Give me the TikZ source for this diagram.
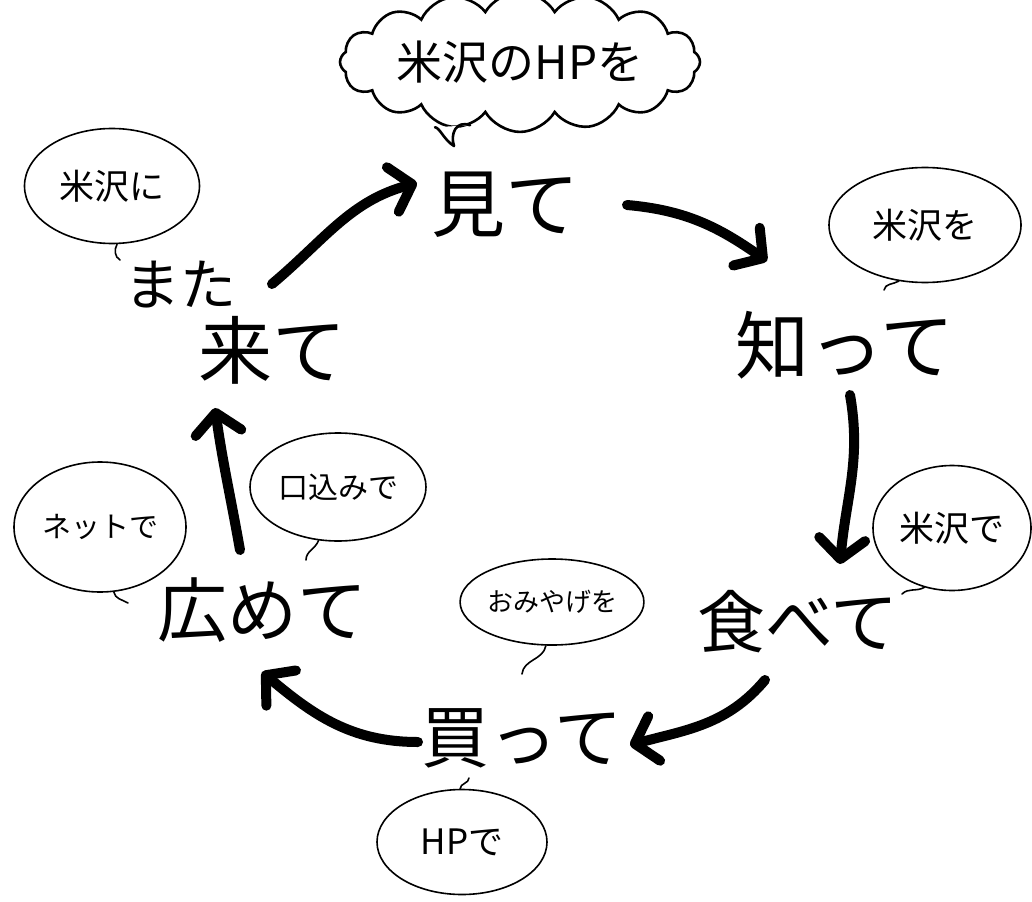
\documentclass[tikz,border=0pt]{standalone}
\usepackage{fontspec}
\newfontfamily\jp{Noto Sans CJK JP}
\usetikzlibrary{arrows.meta,shapes.geometric,shapes.symbols,calc}
\begin{document}
\begin{tikzpicture}[x=1pt,y=1pt,
  big/.style={font=\jp\fontsize{74}{74}\selectfont, inner sep=0pt},
  mid/.style={font=\jp\fontsize{56}{56}\selectfont, inner sep=0pt},
  bubble/.style={draw, ellipse, line width=1.6pt, font=\jp\fontsize{35}{35}\selectfont, inner sep=0pt},
  tail/.style={line width=1.6pt, line cap=round},
  flow/.style={line width=10pt, line cap=round, -{Straight Barb[length=20pt,width=46pt,round]}}]
\useasboundingbox[fill=white] (0,0) rectangle (1032,-901);

% main labels
\node[big] (mite) at (505,-205) {見て};
\node[big] (shitte) at (845,-345) {知って};
\node[big, font=\jp\fontsize{68}{68}\selectfont] (tabete) at (798,-622) {食べて};
\node[big, font=\jp\fontsize{68}{68}\selectfont] (katte) at (522,-738) {買って};
\node[big, font=\jp\fontsize{70}{70}\selectfont] (hiromete) at (262,-610) {広めて};
\node[mid] (mata) at (180,-285) {また};
\node[big] (kite) at (272,-350) {来て};

% cloud
\node[cloud, cloud puffs=16, cloud puff arc=120, aspect=3.4, draw, line width=2.6pt,
  minimum width=360pt, minimum height=108pt, inner sep=0pt,
  font=\jp\fontsize{46}{46}\selectfont] (cloud) at (520,-62) {米沢のHPを};
\coordinate (cloudtip) at (454,-146);
\draw[line width=2.6pt, line cap=round, line join=round, fill=white]
  ($(cloud.south)+(-85,6)$) .. controls (440,-128) and (444,-140) .. (cloudtip)
  .. controls (450,-134) and (456,-120) .. ($(cloud.south)+(-50,8)$);

% bubbles
\node[bubble, minimum width=175pt, minimum height=115pt] (bni) at (112,-186) {米沢に};
\node[bubble, minimum width=192pt, minimum height=115pt] (bwo) at (925,-225) {米沢を};
\node[bubble, minimum width=158pt, minimum height=125pt] (bde) at (952,-528) {米沢で};
\node[bubble, minimum width=180pt, minimum height=86pt, font=\jp\fontsize{26}{26}\selectfont] (bomi) at (552,-602) {おみやげを};
\node[bubble, minimum width=170pt, minimum height=105pt] (bhp) at (462,-842) {HPで};
\node[bubble, minimum width=172pt, minimum height=130pt, font=\jp\fontsize{29}{29}\selectfont] (bnet) at (100,-527) {ネットで};
\node[bubble, minimum width=176pt, minimum height=108pt, font=\jp\fontsize{30}{30}\selectfont] (bkuchi) at (338,-487) {口込みで};

% tails
\coordinate (tni) at (120,-260);
\coordinate (two) at (884,-290);
\coordinate (tde) at (902,-594);
\coordinate (tomi) at (522,-674);
\coordinate (thp) at (469,-778);
\coordinate (tnet) at (128,-603);
\coordinate (tkuchi) at (306,-560);
\draw[tail] (bni.-85) to[out=-120,in=150] (tni);
\draw[tail] (bwo.-115) to[out=-150,in=80] (two);
\draw[tail] (bde.-115) to[out=-150,in=45] (tde);
\draw[tail] (bomi.-98) to[out=-100,in=85] (tomi);
\draw[tail] (bhp.92) to[out=90,in=-90] (thp);
\draw[tail] (bnet.-78) to[out=-80,in=150] (tnet);
\draw[tail] (bkuchi.-110) to[out=-110,in=90] (tkuchi);

% cycle arrows
\draw[flow] ($(mite.center)+(122,0)$) to[out=-5,in=145] ($(shitte.center)+(-78,84)$);
\draw[flow] ($(shitte.center)+(5,-50)$) to[out=-80,in=85] ($(tabete.center)+(42,58)$);
\draw[flow] ($(tabete.center)+(-33,-58)$) to[out=-130,in=15] ($(katte.center)+(108,-7)$);
\draw[flow] ($(katte.center)+(-104,-4)$) to[out=180,in=-40] ($(hiromete.center)+(0,-62)$);
\draw[flow] ($(hiromete.center)+(-22,60)$) to[out=100,in=-82] ($(kite.center)+(-57,-58)$);
\draw[flow] ($(kite.center)+(0,66)$) to[out=40,in=195] ($(mite.center)+(-88,22)$);
\end{tikzpicture}
\end{document}
